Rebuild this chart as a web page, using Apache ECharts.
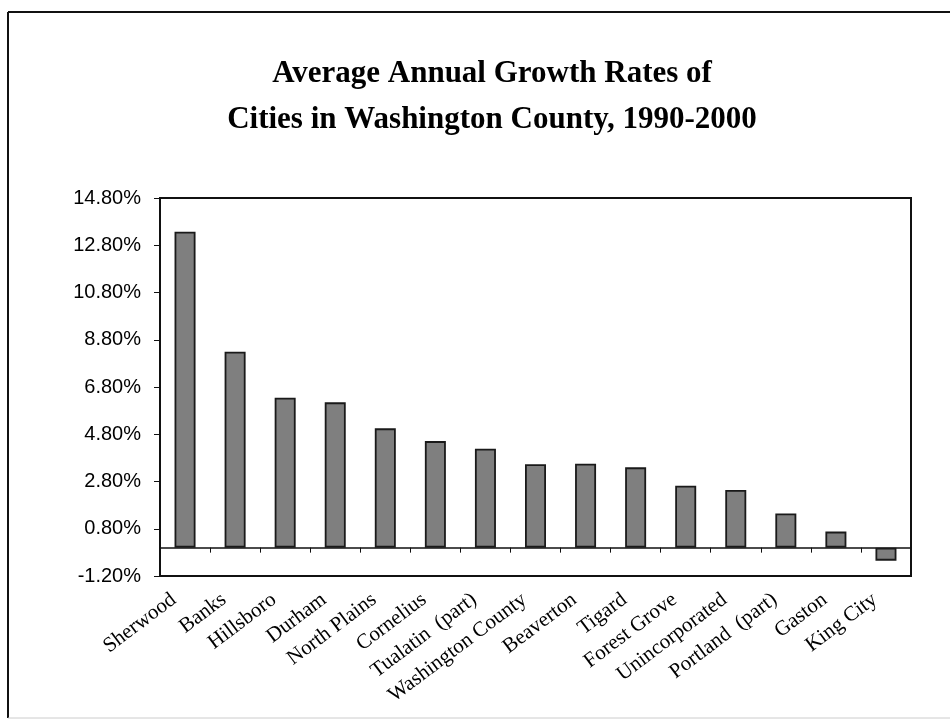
<!DOCTYPE html>
<html>
<head>
<meta charset="utf-8">
<title>Average Annual Growth Rates</title>
<script src="https://cdn.jsdelivr.net/npm/echarts@6/dist/echarts.min.js"></script>
<style>
  html, body { margin: 0; padding: 0; background: #fff; }
  #chart { width: 950px; height: 721px; }
</style>
</head>
<body>
<div id="chart"></div>
<script>
// city names along the x axis
const cities = [
    'Sherwood', 'Banks', 'Hillsboro', 'Durham', 'North Plains', 'Cornelius',
    'Tualatin  (part)', 'Washington County', 'Beaverton', 'Tigard', 'Forest Grove',
    'Unincorporated', 'Portland  (part)', 'Gaston', 'King City'
];

// average annual growth, in percent
const growthRates = [
    13.37, 8.29, 6.35, 6.15, 5.05, 4.51,
    4.19, 3.53, 3.55, 3.40, 2.62,
    2.44, 1.45, 0.68, -0.55
];

// y tick labels, bottom to top
const yTickLabels = [
    '-1.20%', '0.80%', '2.80%', '4.80%', '6.80%', '8.80%', '10.80%', '12.80%', '14.80%'
];
const yMin = -1.2;
const yMax = 14.8;

const chart = echarts.init(document.getElementById('chart'));

const option = {
    animation: false,
    backgroundColor: '#fff',
    title: {
        text: 'Average Annual Growth Rates of\nCities in Washington County, 1990-2000',
        left: 487,
        textAlign: 'center',
        top: 46,
        textStyle: {
            fontFamily: 'Liberation Serif',
            fontWeight: 'bold',
            fontSize: 31,
            lineHeight: 46,
            color: '#000'
        }
    },
    graphic: [
        { type: 'line', shape: { x1: 8, y1: 12, x2: 950, y2: 12 }, style: { stroke: '#111', lineWidth: 2 } },
        { type: 'line', shape: { x1: 8, y1: 12, x2: 8, y2: 718 }, style: { stroke: '#111', lineWidth: 2 } },
        { type: 'line', shape: { x1: 8, y1: 718, x2: 950, y2: 718 }, style: { stroke: '#ccc', lineWidth: 1 } }
    ],
    grid: {
        left: 160, right: 39, top: 198, bottom: 145,
        show: true,
        borderColor: '#111',
        borderWidth: 2,
        backgroundColor: 'transparent'
    },
    xAxis: [
        {
            // zero line with ticks between bars
            type: 'category',
            data: cities,
            axisLine: { show: true, onZero: true, onZeroAxisIndex: 0, lineStyle: { color: '#111', width: 1.5 } },
            axisTick: { show: true, interval: 0, length: 5, lineStyle: { color: '#111' } },
            axisLabel: { show: false, interval: 0 },
            splitLine: { show: false }
        },
        {
            // names along the bottom of the plot
            type: 'category',
            data: cities,
            position: 'bottom',
            axisLine: { show: false, onZero: false },
            axisTick: { show: false },
            axisLabel: {
                rotate: 37,
                margin: 13,
                padding: [0, 14, 0, 0],
                interval: 0,
                fontFamily: 'Liberation Serif',
                fontSize: 21,
                color: '#000'
            },
            splitLine: { show: false }
        }
    ],
    yAxis: [
        {
            type: 'value',
            min: yMin,
            max: yMax,
            axisLine: { show: false },
            axisTick: { show: false },
            axisLabel: { show: false },
            splitLine: { show: false }
        },
        {
            // labels only, evenly spaced from min to max
            type: 'category',
            data: yTickLabels,
            boundaryGap: false,
            position: 'left',
            axisLine: { show: true, onZero: false, lineStyle: { color: '#111', width: 2 } },
            axisTick: { show: true, length: 6, lineStyle: { color: '#111' } },
            axisLabel: {
                margin: 19,
                fontFamily: 'Liberation Sans',
                fontSize: 20,
                color: '#000'
            },
            splitLine: { show: false }
        }
    ],
    series: [
        {
            type: 'bar',
            xAxisIndex: 0,
            yAxisIndex: 0,
            data: growthRates,
            barWidth: 21,
            itemStyle: {
                color: '#7f7f7f',
                borderColor: '#1a1a1a',
                borderWidth: 1.8
            }
        }
    ]
};

chart.setOption(option);
</script>
</body>
</html>
